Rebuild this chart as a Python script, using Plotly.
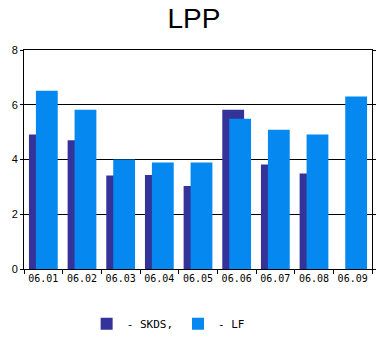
import plotly.graph_objects as go

categories = ["06.01", "06.02", "06.03", "06.04", "06.05", "06.06", "06.07", "06.08", "06.09"]
skds = [4.91, 4.70, 3.42, 3.43, 3.03, 5.82, 3.82, 3.49, 0.0]
lf = [6.51, 5.82, 4.00, 3.89, 3.89, 5.49, 5.09, 4.91, 6.30]
y_ticks = [0, 2, 4, 6, 8]

fig = go.Figure()
fig.add_trace(go.Bar(x=categories, y=skds, name="- SKDS,", marker=dict(color="#333399", line=dict(width=0)),
                     width=0.564, offset=-0.372))
fig.add_trace(go.Bar(x=categories, y=lf, name="- LF", marker=dict(color="#0588EF", line=dict(width=0)),
                     width=0.564, offset=-0.192))

fig.update_layout(
    width=388, height=350,
    margin=dict(l=22, r=15, t=50, b=80),
    paper_bgcolor="white", plot_bgcolor="white",
    barmode="overlay",
    title=dict(text="LPP", x=0.5, xanchor="center", y=0.975, yanchor="top",
               font=dict(family="Liberation Sans, Arial, sans-serif", size=28, color="black")),
    showlegend=True,
    legend=dict(orientation="h", x=0.18, xanchor="left", y=-0.25, yanchor="middle",
                font=dict(family="DejaVu Sans Mono, monospace", size=11, color="black"),
                itemwidth=30, bgcolor="rgba(0,0,0,0)"),
    xaxis=dict(type="category", showline=True, linecolor="black", linewidth=1, mirror=True,
               ticks="outside", ticklen=4, tickcolor="black", tickson="boundaries",
               showgrid=False, range=[-0.5, 8.5], tickangle=0,
               tickfont=dict(family="DejaVu Sans Mono, monospace", size=10, color="black")),
    yaxis=dict(range=[0, 8], tickvals=y_ticks, showline=True, linecolor="black", linewidth=1,
               mirror="ticks", ticks="outside", ticklen=3, tickcolor="black",
               showgrid=True, gridcolor="black", gridwidth=1, zeroline=False,
               tickfont=dict(family="Liberation Sans, Arial, sans-serif", size=11, color="black")),
)

fig.write_html("out.html")
